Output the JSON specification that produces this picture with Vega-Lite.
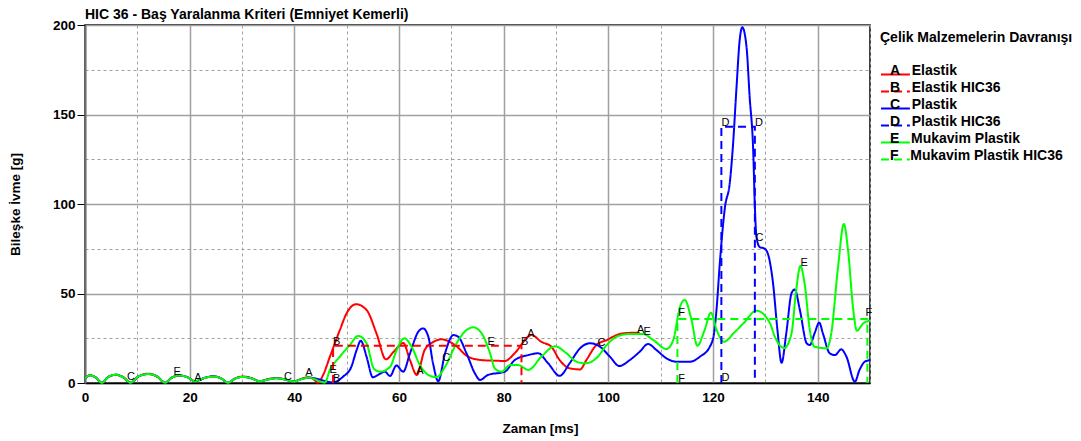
{
  "$schema": "https://vega.github.io/schema/vega-lite/v6.json",
  "width": 785,
  "height": 358,
  "autosize": {"type": "none"},
  "padding": {"left": 85, "top": 25, "right": 211, "bottom": 58},
  "background": "white",
  "config": {"font": "Liberation Sans", "view": {"stroke": "black", "strokeWidth": 1.5}},
  "title": {"text": "HIC 36 - Baş Yaralanma Kriteri (Emniyet Kemerli)", "anchor": "start", "frame": "group", "offset": -4, "fontSize": 14, "fontWeight": "bold", "font": "Liberation Sans", "color": "black"},
  "datasets": {
    "curves": [
      {"s":"Elastik","t":0,"v":2.6},{"s":"Elastik","t":1,"v":4.3},{"s":"Elastik","t":2,"v":3.2},{"s":"Elastik","t":3.2,"v":0.2},{"s":"Elastik","t":4.5,"v":3.5},{"s":"Elastik","t":5.9,"v":4.6},{"s":"Elastik","t":7.3,"v":3.2},{"s":"Elastik","t":8.7,"v":0.2},{"s":"Elastik","t":10.3,"v":3.8},{"s":"Elastik","t":12.1,"v":5.2},{"s":"Elastik","t":13.8,"v":3.6},{"s":"Elastik","t":15.3,"v":0.2},{"s":"Elastik","t":16.6,"v":3},{"s":"Elastik","t":18.1,"v":4.2},{"s":"Elastik","t":19.6,"v":3.2},{"s":"Elastik","t":21,"v":1},{"s":"Elastik","t":22.8,"v":2.8},{"s":"Elastik","t":24.5,"v":3.6},{"s":"Elastik","t":26,"v":2.6},{"s":"Elastik","t":27.3,"v":0.2},{"s":"Elastik","t":28.8,"v":2.7},{"s":"Elastik","t":30.2,"v":3.6},{"s":"Elastik","t":31.8,"v":2.7},{"s":"Elastik","t":33.4,"v":1},{"s":"Elastik","t":35,"v":2.2},{"s":"Elastik","t":36.6,"v":2.8},{"s":"Elastik","t":38.2,"v":2},{"s":"Elastik","t":39.8,"v":0.8},{"s":"Elastik","t":41.4,"v":2.4},{"s":"Elastik","t":42.8,"v":3.2},
      {"s":"Elastik","t":43.8,"v":1.8},{"s":"Elastik","t":44.5,"v":0.2},{"s":"Elastik","t":45.5,"v":4.5},{"s":"Elastik","t":46.8,"v":14.7},{"s":"Elastik","t":48.7,"v":29.6},{"s":"Elastik","t":50,"v":39},{"s":"Elastik","t":51.8,"v":44},{"s":"Elastik","t":53.8,"v":40.8},{"s":"Elastik","t":55.7,"v":27.7},{"s":"Elastik","t":57.5,"v":13.2},{"s":"Elastik","t":59,"v":17.5},{"s":"Elastik","t":60.8,"v":22.4},{"s":"Elastik","t":62.1,"v":12.8},{"s":"Elastik","t":63.4,"v":4.5},{"s":"Elastik","t":64.9,"v":18.4},{"s":"Elastik","t":66.5,"v":22.8},{"s":"Elastik","t":68.1,"v":24.4},{"s":"Elastik","t":70.7,"v":21.2},{"s":"Elastik","t":73.2,"v":14.7},{"s":"Elastik","t":75.8,"v":12.8},{"s":"Elastik","t":78,"v":12.5},{"s":"Elastik","t":80.2,"v":12.3},{"s":"Elastik","t":82.1,"v":16.6},{"s":"Elastik","t":84.7,"v":25.9},{"s":"Elastik","t":85.3,"v":26.8},{"s":"Elastik","t":87.2,"v":23},{"s":"Elastik","t":89.1,"v":20.3},{"s":"Elastik","t":90.7,"v":12.8},{"s":"Elastik","t":92.6,"v":8.2},{"s":"Elastik","t":94.6,"v":7.6},{"s":"Elastik","t":95.8,"v":12.8},{"s":"Elastik","t":97.7,"v":21.2},{"s":"Elastik","t":99.7,"v":24},{"s":"Elastik","t":102.2,"v":27.4},{"s":"Elastik","t":104,"v":28},{"s":"Elastik","t":106,"v":28.1},
      {"s":"Plastik","t":0,"v":2.6},{"s":"Plastik","t":1,"v":4.3},{"s":"Plastik","t":2,"v":3.2},{"s":"Plastik","t":3.2,"v":0.2},{"s":"Plastik","t":4.5,"v":3.5},{"s":"Plastik","t":5.9,"v":4.6},{"s":"Plastik","t":7.3,"v":3.2},{"s":"Plastik","t":8.7,"v":0.2},{"s":"Plastik","t":10.3,"v":3.8},{"s":"Plastik","t":12.1,"v":5},{"s":"Plastik","t":13.8,"v":3.6},{"s":"Plastik","t":15.3,"v":0.2},{"s":"Plastik","t":16.6,"v":3},{"s":"Plastik","t":18.1,"v":4.2},{"s":"Plastik","t":19.6,"v":3.2},{"s":"Plastik","t":21,"v":1},{"s":"Plastik","t":22.8,"v":2.8},{"s":"Plastik","t":24.5,"v":3.8},{"s":"Plastik","t":26,"v":2.6},{"s":"Plastik","t":27.3,"v":0.2},{"s":"Plastik","t":28.8,"v":2.6},{"s":"Plastik","t":30.2,"v":3.4},{"s":"Plastik","t":31.8,"v":2.6},{"s":"Plastik","t":33.4,"v":1},{"s":"Plastik","t":35,"v":2},{"s":"Plastik","t":36.6,"v":2.6},{"s":"Plastik","t":38.2,"v":2},{"s":"Plastik","t":39.8,"v":0.8},{"s":"Plastik","t":41.4,"v":2.2},{"s":"Plastik","t":42.8,"v":3},
      {"s":"Plastik","t":44.5,"v":2.2},{"s":"Plastik","t":45.8,"v":1.2},{"s":"Plastik","t":47.4,"v":0.3},{"s":"Plastik","t":49.3,"v":3.5},{"s":"Plastik","t":50.9,"v":9.1},{"s":"Plastik","t":51.9,"v":18.4},{"s":"Plastik","t":52.7,"v":23.6},{"s":"Plastik","t":53.8,"v":14.7},{"s":"Plastik","t":55,"v":3.2},{"s":"Plastik","t":56,"v":4.5},{"s":"Plastik","t":57.3,"v":6.3},{"s":"Plastik","t":58.3,"v":3.9},{"s":"Plastik","t":59.5,"v":9.8},{"s":"Plastik","t":60.8,"v":6.3},{"s":"Plastik","t":62.1,"v":16.6},{"s":"Plastik","t":63.7,"v":28.7},{"s":"Plastik","t":64.6,"v":30.5},{"s":"Plastik","t":65.6,"v":25.9},{"s":"Plastik","t":66.5,"v":11},{"s":"Plastik","t":67.5,"v":1},{"s":"Plastik","t":68.8,"v":16.6},{"s":"Plastik","t":70.4,"v":26.8},{"s":"Plastik","t":71.3,"v":25.9},{"s":"Plastik","t":72.9,"v":16.6},{"s":"Plastik","t":74.5,"v":5.4},{"s":"Plastik","t":75.5,"v":1.7},{"s":"Plastik","t":77,"v":4.5},{"s":"Plastik","t":80.2,"v":6.3},{"s":"Plastik","t":82.1,"v":12.8},{"s":"Plastik","t":84.7,"v":15.6},{"s":"Plastik","t":86.6,"v":16.6},{"s":"Plastik","t":88.5,"v":11},{"s":"Plastik","t":90.7,"v":4},{"s":"Plastik","t":92.6,"v":11},{"s":"Plastik","t":94.6,"v":19.4},{"s":"Plastik","t":96.5,"v":22.2},{"s":"Plastik","t":98.4,"v":20.3},{"s":"Plastik","t":100.3,"v":14.7},{"s":"Plastik","t":102.1,"v":9.5},{"s":"Plastik","t":104.1,"v":12.8},{"s":"Plastik","t":106,"v":17.5},{"s":"Plastik","t":107.6,"v":21.8},{"s":"Plastik","t":109.2,"v":18.4},{"s":"Plastik","t":111.1,"v":13.8},{"s":"Plastik","t":113,"v":11.9},{"s":"Plastik","t":115.6,"v":11.9},{"s":"Plastik","t":117.5,"v":14.7},{"s":"Plastik","t":119.4,"v":20.3},{"s":"Plastik","t":120.2,"v":27.7},{"s":"Plastik","t":120.7,"v":42},{"s":"Plastik","t":121.3,"v":66.9},{"s":"Plastik","t":122.3,"v":98.5},{"s":"Plastik","t":123.2,"v":111.6},{"s":"Plastik","t":123.8,"v":132},{"s":"Plastik","t":124.5,"v":165.5},{"s":"Plastik","t":125.1,"v":191.6},{"s":"Plastik","t":125.6,"v":198.7},{"s":"Plastik","t":126.4,"v":187.9},{"s":"Plastik","t":127,"v":160},{"s":"Plastik","t":127.7,"v":128.3},{"s":"Plastik","t":128,"v":98.5},{"s":"Plastik","t":128.3,"v":81.7},{"s":"Plastik","t":128.9,"v":76},{"s":"Plastik","t":129.9,"v":75},{"s":"Plastik","t":130.7,"v":70},{"s":"Plastik","t":131.5,"v":55},{"s":"Plastik","t":132.3,"v":30},{"s":"Plastik","t":133.1,"v":11.3},{"s":"Plastik","t":134,"v":27.7},{"s":"Plastik","t":135,"v":50.1},{"s":"Plastik","t":135.6,"v":52.3},{"s":"Plastik","t":136.6,"v":40.8},{"s":"Plastik","t":137.9,"v":22.2},{"s":"Plastik","t":138.5,"v":21.2},{"s":"Plastik","t":139.4,"v":27.7},{"s":"Plastik","t":140.3,"v":33.7},{"s":"Plastik","t":141,"v":27.7},{"s":"Plastik","t":142.3,"v":16.6},{"s":"Plastik","t":143.3,"v":15.6},{"s":"Plastik","t":144.5,"v":18.8},{"s":"Plastik","t":145.5,"v":14.7},{"s":"Plastik","t":147.1,"v":0.7},{"s":"Plastik","t":148,"v":7.3},{"s":"Plastik","t":149,"v":11.9},{"s":"Plastik","t":150,"v":12.8},
      {"s":"Mukavim Plastik","t":0,"v":2.6},{"s":"Mukavim Plastik","t":1,"v":4.3},{"s":"Mukavim Plastik","t":2,"v":3.2},{"s":"Mukavim Plastik","t":3.2,"v":0.2},{"s":"Mukavim Plastik","t":4.5,"v":3.5},{"s":"Mukavim Plastik","t":5.9,"v":4.6},{"s":"Mukavim Plastik","t":7.3,"v":3.2},{"s":"Mukavim Plastik","t":8.7,"v":0.2},{"s":"Mukavim Plastik","t":10.3,"v":3.8},{"s":"Mukavim Plastik","t":12.1,"v":5},{"s":"Mukavim Plastik","t":13.8,"v":3.6},{"s":"Mukavim Plastik","t":15.3,"v":0.2},{"s":"Mukavim Plastik","t":16.6,"v":3},{"s":"Mukavim Plastik","t":18.1,"v":4.2},{"s":"Mukavim Plastik","t":19.6,"v":3.2},{"s":"Mukavim Plastik","t":21,"v":1},{"s":"Mukavim Plastik","t":22.8,"v":2.8},{"s":"Mukavim Plastik","t":24.5,"v":3.6},{"s":"Mukavim Plastik","t":26,"v":2.6},{"s":"Mukavim Plastik","t":27.3,"v":0.2},{"s":"Mukavim Plastik","t":28.8,"v":2.6},{"s":"Mukavim Plastik","t":30.2,"v":3.4},{"s":"Mukavim Plastik","t":31.8,"v":2.6},{"s":"Mukavim Plastik","t":33.4,"v":1},{"s":"Mukavim Plastik","t":35,"v":2},{"s":"Mukavim Plastik","t":36.6,"v":2.6},{"s":"Mukavim Plastik","t":38.2,"v":2},{"s":"Mukavim Plastik","t":39.8,"v":0.8},{"s":"Mukavim Plastik","t":41.4,"v":2.2},{"s":"Mukavim Plastik","t":42.8,"v":3},
      {"s":"Mukavim Plastik","t":43.8,"v":2.2},{"s":"Mukavim Plastik","t":45,"v":0.8},{"s":"Mukavim Plastik","t":45.8,"v":0.2},{"s":"Mukavim Plastik","t":46.8,"v":7.3},{"s":"Mukavim Plastik","t":48.7,"v":14.7},{"s":"Mukavim Plastik","t":50.6,"v":21.2},{"s":"Mukavim Plastik","t":52.2,"v":26.3},{"s":"Mukavim Plastik","t":53.8,"v":22.2},{"s":"Mukavim Plastik","t":55.2,"v":8},{"s":"Mukavim Plastik","t":56.4,"v":6.3},{"s":"Mukavim Plastik","t":58.3,"v":9.1},{"s":"Mukavim Plastik","t":59.5,"v":18},{"s":"Mukavim Plastik","t":61,"v":25},{"s":"Mukavim Plastik","t":62.4,"v":20.3},{"s":"Mukavim Plastik","t":64,"v":10},{"s":"Mukavim Plastik","t":65.6,"v":4.5},{"s":"Mukavim Plastik","t":67.2,"v":3.3},{"s":"Mukavim Plastik","t":68.8,"v":9.1},{"s":"Mukavim Plastik","t":71,"v":22.2},{"s":"Mukavim Plastik","t":72.9,"v":29.6},{"s":"Mukavim Plastik","t":74.2,"v":31.1},{"s":"Mukavim Plastik","t":75.8,"v":27.7},{"s":"Mukavim Plastik","t":77.4,"v":16.6},{"s":"Mukavim Plastik","t":78.3,"v":8.2},{"s":"Mukavim Plastik","t":79.6,"v":6.3},{"s":"Mukavim Plastik","t":81.2,"v":10},{"s":"Mukavim Plastik","t":82.8,"v":10},{"s":"Mukavim Plastik","t":84.7,"v":7.3},{"s":"Mukavim Plastik","t":87.2,"v":14.7},{"s":"Mukavim Plastik","t":89.8,"v":20.5},{"s":"Mukavim Plastik","t":92,"v":16.6},{"s":"Mukavim Plastik","t":93.9,"v":11.9},{"s":"Mukavim Plastik","t":95.6,"v":11},{"s":"Mukavim Plastik","t":97.7,"v":13.8},{"s":"Mukavim Plastik","t":99.7,"v":21.2},{"s":"Mukavim Plastik","t":101.6,"v":25.9},{"s":"Mukavim Plastik","t":104.1,"v":27.4},{"s":"Mukavim Plastik","t":106.6,"v":27.4},{"s":"Mukavim Plastik","t":108.6,"v":24},{"s":"Mukavim Plastik","t":111.1,"v":19},{"s":"Mukavim Plastik","t":112.4,"v":24},{"s":"Mukavim Plastik","t":113.7,"v":42.6},{"s":"Mukavim Plastik","t":114.6,"v":46.4},{"s":"Mukavim Plastik","t":115.9,"v":35.2},{"s":"Mukavim Plastik","t":117,"v":20.8},{"s":"Mukavim Plastik","t":118.4,"v":29.6},{"s":"Mukavim Plastik","t":119.6,"v":39.3},{"s":"Mukavim Plastik","t":120.7,"v":29.6},{"s":"Mukavim Plastik","t":122.1,"v":23},{"s":"Mukavim Plastik","t":124,"v":28},{"s":"Mukavim Plastik","t":125.8,"v":33.3},{"s":"Mukavim Plastik","t":128.3,"v":40.4},{"s":"Mukavim Plastik","t":130.9,"v":33.3},{"s":"Mukavim Plastik","t":131.8,"v":26},{"s":"Mukavim Plastik","t":133.6,"v":19.5},{"s":"Mukavim Plastik","t":135,"v":27.7},{"s":"Mukavim Plastik","t":135.9,"v":52},{"s":"Mukavim Plastik","t":136.7,"v":65.4},{"s":"Mukavim Plastik","t":137.5,"v":55.7},{"s":"Mukavim Plastik","t":138.5,"v":29.6},{"s":"Mukavim Plastik","t":139.4,"v":20.3},{"s":"Mukavim Plastik","t":141.7,"v":19.4},{"s":"Mukavim Plastik","t":142.6,"v":27.7},{"s":"Mukavim Plastik","t":143.9,"v":65},{"s":"Mukavim Plastik","t":145,"v":88.8},{"s":"Mukavim Plastik","t":145.8,"v":74.3},{"s":"Mukavim Plastik","t":146.8,"v":40.8},{"s":"Mukavim Plastik","t":147.5,"v":29.2},{"s":"Mukavim Plastik","t":148.7,"v":33.3},{"s":"Mukavim Plastik","t":150,"v":34.8}
    ],
    "hic": [
      {"s":"Elastik HIC36","t":47.4,"v":0,"o":0},{"s":"Elastik HIC36","t":47.4,"v":20.8,"o":1},{"s":"Elastik HIC36","t":83.4,"v":20.8,"o":2},{"s":"Elastik HIC36","t":83.4,"v":0,"o":3},
      {"s":"Plastik HIC36","t":121.6,"v":0,"o":0},{"s":"Plastik HIC36","t":121.6,"v":143.2,"o":1},{"s":"Plastik HIC36","t":128,"v":143.2,"o":2},{"s":"Plastik HIC36","t":128,"v":0,"o":3},
      {"s":"Mukavim Plastik HIC36","t":113.2,"v":0,"o":0},{"s":"Mukavim Plastik HIC36","t":113.2,"v":35.8,"o":1},{"s":"Mukavim Plastik HIC36","t":149.5,"v":35.8,"o":2},{"s":"Mukavim Plastik HIC36","t":149.5,"v":0,"o":3}
    ],
    "labels": [
      {"k":"C","t":8.8,"v":3.4},{"k":"E","t":17.6,"v":6.1},{"k":"A","t":21.6,"v":2.8},{"k":"C","t":38.8,"v":3.4},{"k":"A","t":42.8,"v":5.6},{"k":"E","t":47.4,"v":7.3},{"k":"A","t":64,"v":6.7},{"k":"C","t":69,"v":14.1},{"k":"E","t":77.6,"v":22.7},{"k":"A","t":85.2,"v":27.2},{"k":"C","t":98.7,"v":22.2},{"k":"A","t":106.2,"v":29.6},{"k":"E","t":107.4,"v":28.7},{"k":"C","t":128.9,"v":80.8},{"k":"E","t":137.4,"v":67.2},
      {"k":"B","t":48.1,"v":23.1},{"k":"B","t":48.1,"v":2.2},{"k":"B","t":84,"v":23.1},{"k":"D","t":122.4,"v":145.4},{"k":"D","t":128.8,"v":145.4},{"k":"D","t":122.4,"v":2.6},{"k":"F","t":114,"v":38.9},{"k":"F","t":114,"v":2.2},{"k":"F","t":149.8,"v":38.9}
    ]
  },
  "encoding": {
    "x": {"field": "t", "type": "quantitative", "scale": {"domain": [0, 150], "nice": false, "zero": false},
      "axis": {"values": [0,10,20,30,40,50,60,70,80,90,100,110,120,130,140,150], "labelExpr": "datum.value % 20 === 0 ? datum.label : ''", "labelFlush": false,
        "grid": true, "gridColor": "#a0a0a0", "gridWidth": {"condition": {"test": "datum.value % 20 === 0", "value": 1.5}, "value": 1}, "gridDash": {"condition": {"test": "datum.value % 20 === 0", "value": []}, "value": [3, 3]},
        "ticks": false, "domainColor": "black", "domainWidth": 1.5, "labelFont": "Liberation Sans", "labelFontSize": 13.5, "labelFontWeight": "bold", "labelColor": "black", "labelPadding": 7,
        "title": "Zaman [ms]", "titleFont": "Liberation Sans", "titleFontSize": 13.5, "titleFontWeight": "bold", "titleColor": "black", "titleX": 455, "titleY": 45, "titleBaseline": "middle"}},
    "y": {"field": "v", "type": "quantitative", "scale": {"domain": [0, 200], "nice": false},
      "axis": {"values": [0,25,50,75,100,125,150,175,200], "labelExpr": "datum.value % 50 === 0 ? datum.label : ''", "labelFlush": false,
        "grid": true, "gridColor": "#a0a0a0", "gridWidth": {"condition": {"test": "datum.value % 50 === 0", "value": 1.5}, "value": 1}, "gridDash": {"condition": {"test": "datum.value % 50 === 0", "value": []}, "value": [3, 3]},
        "ticks": true, "tickSize": 8, "tickColor": "black", "tickOpacity": {"condition": {"test": "datum.value % 50 === 0", "value": 1}, "value": 0},
        "domainColor": "#707070", "domainWidth": 2, "labelFont": "Liberation Sans", "labelFontSize": 13.5, "labelFontWeight": "bold", "labelColor": "black", "labelPadding": 2,
        "title": "Bileşke İvme [g]", "titleFont": "Liberation Sans", "titleFontSize": 13.5, "titleFontWeight": "bold", "titleColor": "black", "titlePadding": 30}}
  },
  "layer": [
    {
      "data": {"name": "curves"},
      "mark": {"type": "line", "interpolate": "monotone", "strokeWidth": 2},
      "encoding": {
        "color": {"field": "s", "type": "nominal",
          "scale": {"domain": ["Elastik","Elastik HIC36","Plastik","Plastik HIC36","Mukavim Plastik","Mukavim Plastik HIC36"], "range": ["#ff0000","#ff0000","#0000ff","#0000ff","#00ff00","#00ff00"]},
          "legend": {"title": "Çelik Malzemelerin Davranışı", "orient": "none", "legendX": 795, "legendY": 6,
            "titleFont": "Liberation Sans", "titleFontSize": 14, "titleFontWeight": "bold", "titleColor": "black", "titlePadding": 20, "titleLimit": 400,
            "labelFont": "Liberation Sans", "labelFontSize": 14, "labelFontWeight": "bold", "labelColor": "black", "labelBaseline": "alphabetic", "labelLimit": 400,
            "labelExpr": "['A','B','C','D','E','F'][indexof(['Elastik','Elastik HIC36','Plastik','Plastik HIC36','Mukavim Plastik','Mukavim Plastik HIC36'], datum.label)] + '\u00a0\u00a0\u00a0' + datum.label",
            "labelOffset": -9, "symbolType": "M-1,0L2.4,0", "symbolSize": 289, "symbolStrokeWidth": 2, "symbolFillColor": "transparent", "rowPadding": 1}},
        "strokeDash": {"field": "s", "type": "nominal",
          "scale": {"domain": ["Elastik","Elastik HIC36","Plastik","Plastik HIC36","Mukavim Plastik","Mukavim Plastik HIC36"], "range": [[1,0],[8,5],[1,0],[8,5],[1,0],[8,5]]}}
      }
    },
    {
      "data": {"name": "hic"},
      "mark": {"type": "line", "strokeWidth": 2},
      "encoding": {
        "color": {"field": "s", "type": "nominal"},
        "strokeDash": {"field": "s", "type": "nominal"},
        "order": {"field": "o", "type": "quantitative"}
      }
    },
    {
      "data": {"name": "labels"},
      "mark": {"type": "text", "font": "Liberation Sans", "fontSize": 11, "color": "black", "align": "center", "baseline": "middle"},
      "encoding": {"text": {"field": "k", "type": "nominal"}}
    }
  ]
}
